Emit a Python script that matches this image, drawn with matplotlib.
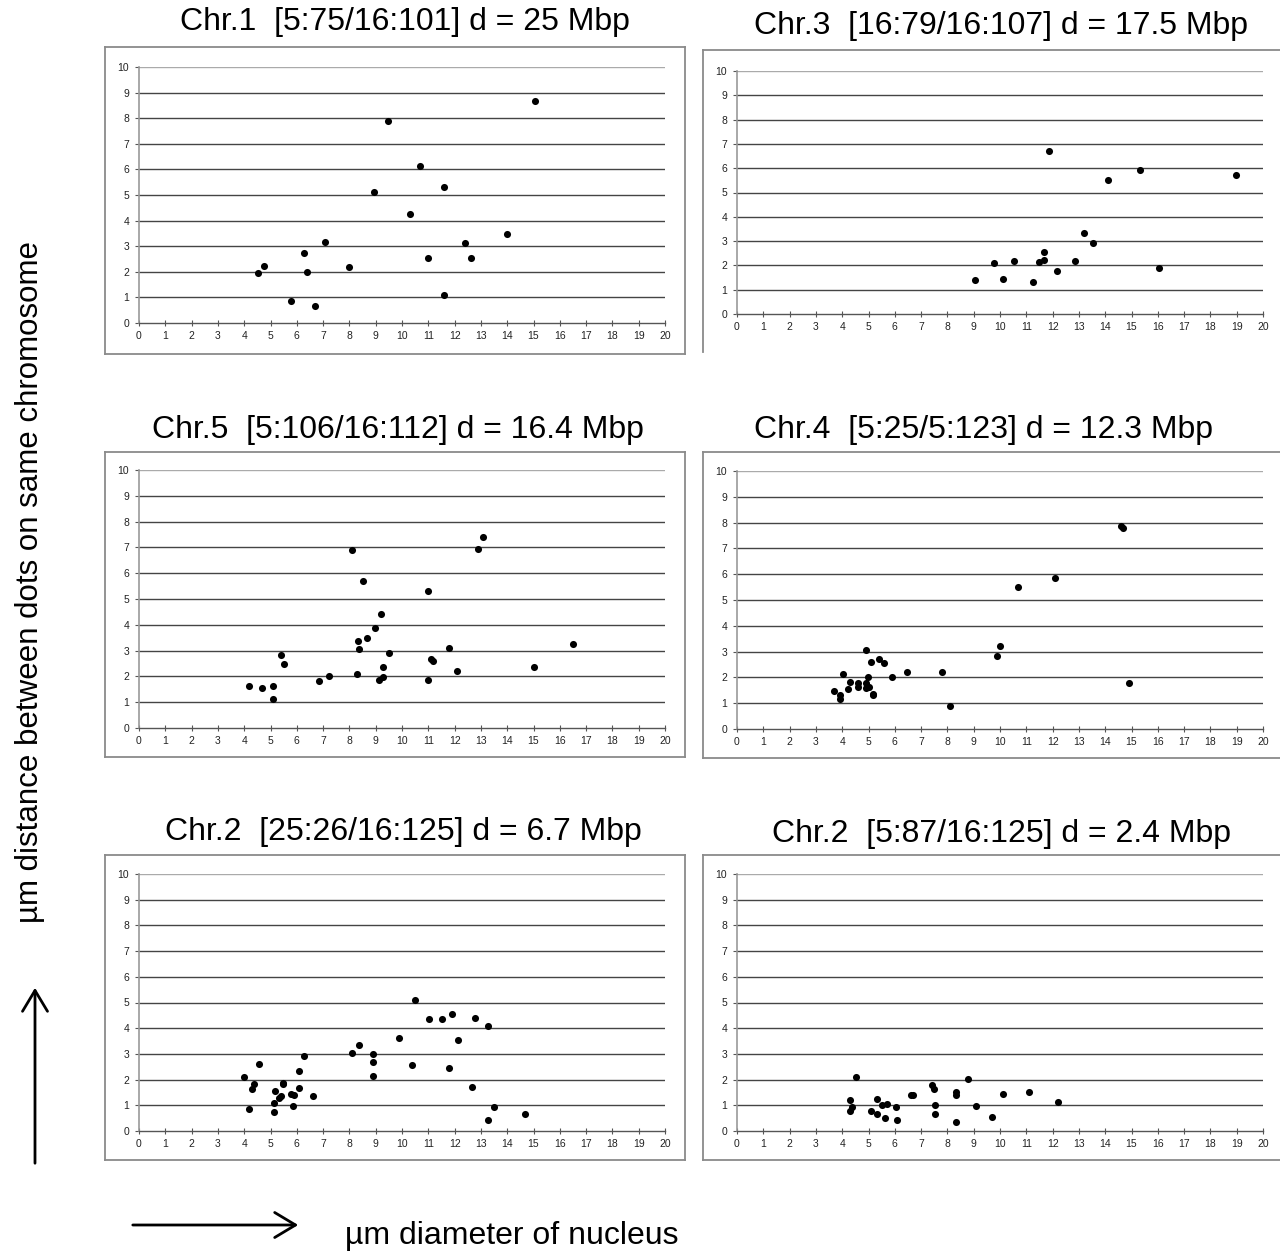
import matplotlib
matplotlib.use("Agg")
import matplotlib.pyplot as plt
from matplotlib.lines import Line2D
from matplotlib.patches import FancyArrowPatch

W, H = 1280, 1252
plt.rcParams['font.family'] = ['Liberation Sans', 'DejaVu Sans']

titles = [
    "Chr.1  [5:75/16:101] d = 25 Mbp",
    "Chr.3  [16:79/16:107] d = 17.5 Mbp",
    "Chr.5  [5:106/16:112] d = 16.4 Mbp",
    "Chr.4  [5:25/5:123] d = 12.3 Mbp",
    "Chr.2  [25:26/16:125] d = 6.7 Mbp",
    "Chr.2  [5:87/16:125] d = 2.4 Mbp",
]

chr1_x = [4.51, 4.75, 5.78, 6.27, 6.38, 6.68, 7.08, 7.98, 8.94, 9.47, 10.32, 10.70, 10.98, 11.58, 11.58, 12.40, 12.61, 13.98, 15.07]
chr1_y = [1.96, 2.21, 0.86, 2.75, 2.01, 0.67, 3.16, 2.17, 5.10, 7.88, 4.26, 6.15, 2.54, 5.30, 1.11, 3.11, 2.55, 3.48, 8.66]

chr3_x = [9.06, 9.78, 10.10, 10.55, 11.27, 11.48, 11.69, 11.69, 11.87, 12.16, 12.86, 13.18, 13.55, 14.09, 15.34, 16.04, 18.96]
chr3_y = [1.41, 2.09, 1.44, 2.19, 1.33, 2.14, 2.57, 2.22, 6.69, 1.76, 2.19, 3.32, 2.91, 5.50, 5.91, 1.89, 5.71]

chr5_x = [4.20, 4.69, 5.10, 5.10, 5.39, 5.51, 6.83, 7.23, 8.10, 8.30, 8.33, 8.38, 8.51, 8.68, 8.99, 9.13, 9.20, 9.28, 9.28, 9.49, 10.98, 10.98, 11.10, 11.19, 11.80, 12.09, 12.88, 13.09, 15.00, 16.50]
chr5_y = [1.61, 1.56, 1.61, 1.12, 2.83, 2.49, 1.81, 2.02, 6.90, 2.09, 3.37, 3.07, 5.71, 3.49, 3.89, 1.85, 4.41, 2.35, 1.96, 2.92, 5.30, 1.85, 2.66, 2.58, 3.10, 2.20, 6.93, 7.42, 2.38, 3.27]

chr4_x = [3.69, 3.90, 3.90, 4.04, 4.21, 4.29, 4.59, 4.59, 4.90, 4.90, 4.90, 4.97, 5.00, 5.09, 5.18, 5.19, 5.40, 5.60, 5.88, 6.48, 7.79, 8.11, 9.89, 10.01, 10.69, 12.08, 14.60, 14.69, 14.89]
chr4_y = [1.47, 1.32, 1.17, 2.13, 1.54, 1.82, 1.78, 1.61, 3.06, 1.77, 1.59, 2.03, 1.64, 2.58, 1.37, 1.30, 2.70, 2.55, 2.00, 2.19, 2.19, 0.88, 2.84, 3.20, 5.52, 5.87, 7.88, 7.81, 1.78]

chr2a_x = [4.00, 4.19, 4.28, 4.38, 4.58, 5.15, 5.15, 5.18, 5.34, 5.39, 5.46, 5.48, 5.78, 5.86, 5.88, 6.07, 6.10, 6.28, 6.60, 8.10, 8.38, 8.88, 8.89, 8.89, 9.89, 10.38, 10.49, 11.03, 11.53, 11.92, 11.78, 12.13, 12.68, 12.79, 13.27, 13.27, 13.48, 14.68]
chr2a_y = [2.12, 0.87, 1.62, 1.82, 2.60, 0.72, 1.10, 1.55, 1.28, 1.35, 1.81, 1.88, 1.44, 0.98, 1.40, 2.32, 1.66, 2.91, 1.37, 3.03, 3.34, 2.99, 2.70, 2.15, 3.60, 2.55, 5.11, 4.35, 4.37, 4.54, 2.46, 3.54, 1.72, 4.40, 4.10, 0.41, 0.94, 0.66]

chr2b_x = [4.29, 4.29, 4.39, 4.51, 5.11, 5.32, 5.32, 5.50, 5.61, 5.71, 6.06, 6.09, 6.60, 6.71, 7.40, 7.49, 7.51, 7.51, 8.31, 8.31, 8.31, 8.80, 9.07, 9.70, 10.11, 11.12, 12.21]
chr2b_y = [1.20, 0.76, 0.94, 2.11, 0.79, 1.25, 0.65, 1.02, 0.49, 1.07, 0.93, 0.43, 1.41, 1.42, 1.79, 1.62, 1.03, 0.67, 1.53, 1.41, 0.36, 2.04, 0.96, 0.54, 1.45, 1.50, 1.14]

x_ticks = list(range(0, 21))
y_ticks = list(range(0, 11))

series = [(chr1_x, chr1_y), (chr3_x, chr3_y), (chr5_x, chr5_y),
          (chr4_x, chr4_y), (chr2a_x, chr2a_y), (chr2b_x, chr2b_y)]

# pixel layout: (x0, x20, y0, y10), frame (l, t, r, b), title (cx, cy), bottom border
layout = [
    ((139, 665, 323, 67), (105, 47, 685, 354), (405, 22), True),
    ((737, 1263, 314, 71), (703, 50, 1300, 352), (1001, 26), False),
    ((139, 665, 728, 470), (105, 452, 685, 757), (398, 430), True),
    ((737, 1263, 729, 471), (703, 452, 1300, 758), (983, 430), True),
    ((139, 665, 1131, 874), (105, 855, 685, 1160), (403, 832), True),
    ((737, 1263, 1131, 874), (703, 855, 1300, 1160), (1001, 834), True),
]

fig = plt.figure(figsize=(W / 100, H / 100), dpi=100)

def fx(p):
    return p / W

def fy(p):
    return 1 - p / H

for (xs, ys), title, ((x0, x1, y0, y1), (fl, ft, fr, fb), (tcx, tcy), has_bottom) in zip(series, titles, layout):
    frame_color = '#8a8a8a'
    fig.add_artist(Line2D([fx(fl), fx(fl)], [fy(ft), fy(fb)], color=frame_color, lw=1.3))
    fig.add_artist(Line2D([fx(fl), fx(fr)], [fy(ft), fy(ft)], color=frame_color, lw=1.3))
    if has_bottom:
        fig.add_artist(Line2D([fx(fl), fx(fr)], [fy(fb), fy(fb)], color=frame_color, lw=1.3))
    if fr < W:
        fig.add_artist(Line2D([fx(fr), fx(fr)], [fy(ft), fy(fb)], color=frame_color, lw=1.3))

    ax = fig.add_axes([fx(x0), fy(y0), (x1 - x0) / W, (y0 - y1) / H])
    ax.set_xlim(0, 20)
    ax.set_ylim(0, 10)
    for s in ['top', 'right']:
        ax.spines[s].set_visible(False)
    ax.spines['left'].set_color('#999999')
    ax.spines['left'].set_linewidth(1.2)
    ax.spines['bottom'].set_color('#555555')
    ax.spines['bottom'].set_linewidth(1.0)
    for yv in y_ticks[1:]:
        ax.axhline(yv, color='#444444' if yv < 10 else '#aaaaaa', lw=1.0, zorder=1)
    ax.set_xticks(x_ticks)
    ax.set_yticks(y_ticks)
    ax.set_xticklabels([str(v) for v in x_ticks])
    ax.set_yticklabels([str(v) for v in y_ticks])
    ax.tick_params(axis='x', direction='inout', length=4, width=0.8, color='#555555',
                   labelsize=7.5, pad=4, labelcolor='#222222')
    ax.tick_params(axis='y', direction='out', length=3, width=0.8, color='#555555',
                   labelsize=7.5, pad=4, labelcolor='#222222')
    ax.patch.set_alpha(0)
    ax.scatter(xs, ys, s=26, color='black', zorder=3, linewidths=0, clip_on=False)

    fig.text(fx(tcx), fy(tcy), title, ha='center', va='center', fontsize=23)

fig.text(fx(30), fy(582), "µm distance between dots on same chromosome", rotation=90,
         ha='center', va='center', fontsize=22.5)
fig.text(fx(345), fy(1236), "µm diameter of nucleus", ha='left', va='center', fontsize=23)

fig.add_artist(FancyArrowPatch(
    (fx(35), fy(1166)), (fx(35), fy(985)), transform=fig.transFigure,
    arrowstyle='->,head_length=10,head_width=6', lw=2, color='black', mutation_scale=1.5))
fig.add_artist(FancyArrowPatch(
    (fx(130), fy(1225)), (fx(301), fy(1225)), transform=fig.transFigure,
    arrowstyle='->,head_length=10,head_width=6', lw=2, color='black', mutation_scale=1.5))

fig.savefig("out.png", dpi=100, facecolor='white')
